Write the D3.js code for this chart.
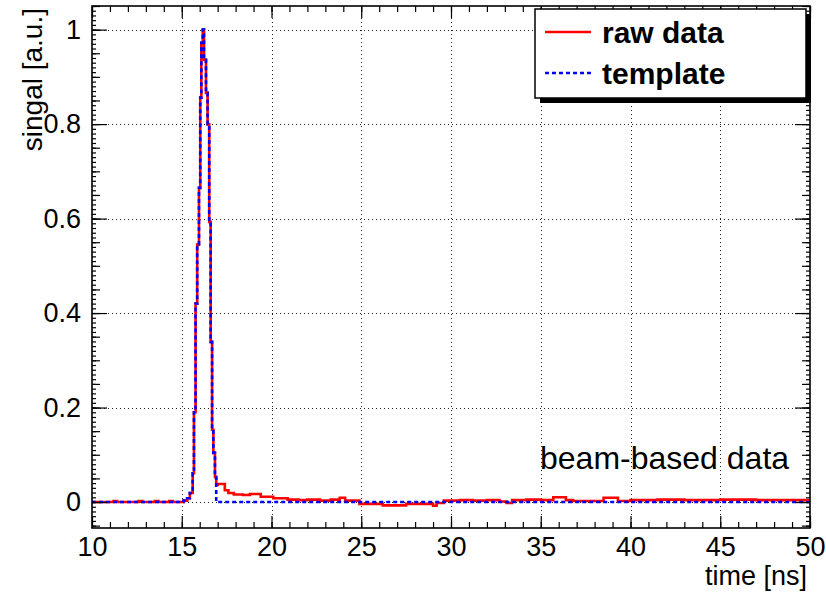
<!DOCTYPE html>
<html><head><meta charset="utf-8">
<script src="https://cdn.jsdelivr.net/npm/d3@7"></script>
<style>body{margin:0;background:#fff}svg{display:block}text{font-family:"Liberation Sans",Arial,sans-serif}</style>
</head><body><svg id="c" width="826" height="595"></svg>
<script>
const rawT = [10, 11.2, 11.4, 12.6, 12.8, 13.5, 13.7, 14.3, 14.5, 15.1, 15.3, 15.45, 15.61, 15.68, 15.77, 15.86, 15.96, 16.03, 16.09, 16.17, 16.24, 16.35, 16.44, 16.53, 16.61, 16.69, 16.76, 16.85, 16.92, 17.0, 17.4, 17.6, 17.9, 18.4, 18.8, 19.4, 20.1, 20.9, 21.5, 22.0, 22.7, 23.3, 23.8, 24.1, 24.9, 26.2, 27.5, 29.0, 29.2, 29.6, 30.5, 31.2, 32.0, 32.7, 33.1, 33.4, 34.2, 35.0, 35.7, 36.4, 36.8, 38.5, 39.3, 40.0, 41.5, 43.0, 45.0, 47.0, 50];
const rawV = [0, 0.002, 0, 0.002, 0, 0.002, 0, 0.002, 0, 0.003, 0.008, 0.019, 0.061, 0.19, 0.42, 0.545, 0.665, 0.856, 0.972, 1.0, 0.936, 0.866, 0.80, 0.593, 0.339, 0.153, 0.104, 0.053, 0.036, 0.038, 0.025, 0.019, 0.016, 0.015, 0.017, 0.011, 0.008, 0.005, 0.004, 0.005, 0.003, 0.005, 0.009, 0.003, -0.004, -0.007, -0.004, -0.008, -0.002, 0.003, 0.004, 0.003, 0.004, 0.001, -0.002, 0.004, 0.005, 0.004, 0.01, 0.004, 0.002, 0.009, 0.002, 0.004, 0.005, 0.004, 0.005, 0.004, 0.004];
const tmplT = [10, 15.1, 15.3, 15.45, 15.61, 15.68, 15.77, 15.86, 15.96, 16.03, 16.09, 16.17, 16.24, 16.35, 16.44, 16.53, 16.61, 16.69, 16.76, 16.85, 16.92, 50];
const tmplV = [0, 0.003, 0.008, 0.019, 0.061, 0.19, 0.42, 0.545, 0.665, 0.856, 0.972, 1.0, 0.936, 0.866, 0.80, 0.593, 0.339, 0.153, 0.104, 0.053, 0, 0];
const xMajor = [10, 15, 20, 25, 30, 35, 40, 45, 50];
const yMajor = [0, 0.2, 0.4, 0.6, 0.8, 1];
const seriesNames = ["raw data", "template"];
const xTitle = "time [ns]", yTitle = "singal [a.u.]", note = "beam-based data";

const L = 92, R = 810, T = 6, B = 528;
const x = d3.scaleLinear().domain([10, 50]).range([L, R]);
const y = d3.scaleLinear().domain([-0.055, 1.05]).range([B, T]);
const svg = d3.select("#c");

// grid
const g = svg.append("g").attr("stroke", "#222").attr("stroke-width", 1).attr("stroke-dasharray", "1,3");
g.selectAll(".gx").data(xMajor.slice(1, -1)).enter().append("line")
  .attr("x1", d => Math.round(x(d)) + 0.5).attr("x2", d => Math.round(x(d)) + 0.5).attr("y1", T).attr("y2", B);
g.selectAll(".gy").data(yMajor).enter().append("line")
  .attr("y1", d => Math.round(y(d)) + 0.5).attr("y2", d => Math.round(y(d)) + 0.5).attr("x1", L).attr("x2", R);

// data
const line = d3.line().x(d => x(d[0])).y(d => y(d[1])).curve(d3.curveStepAfter);
const raw = rawT.map((t, i) => [t, rawV[i]]);
const tmpl = tmplT.map((t, i) => [t, tmplV[i]]);
svg.append("path").datum(raw).attr("d", line).attr("fill", "none").attr("stroke", "#ff0000").attr("stroke-width", 2.6);
svg.append("path").datum(tmpl).attr("d", line).attr("fill", "none").attr("stroke", "#0000ff").attr("stroke-width", 2.6).attr("stroke-dasharray", "4,3");

// axes ticks (inward)
const xMinor = d3.range(10, 50.001, 1);
const yMinor = d3.range(-0.05, 1.0501, 0.01).map(v => +v.toFixed(3));
const yMid = d3.range(-0.05, 1.0501, 0.05).map(v => +v.toFixed(3));
function axisG(axis, tx, ty) {
  const a = svg.append("g").attr("transform", `translate(${tx},${ty})`).call(axis);
  a.select(".domain").remove();
  a.selectAll("line").attr("stroke", "#000").attr("stroke-width", 1.2);
  return a;
}
axisG(d3.axisBottom(x).tickValues(xMinor).tickSize(-6).tickFormat(""), 0, B);
axisG(d3.axisTop(x).tickValues(xMinor).tickSize(-6).tickFormat(""), 0, T);
const xb = axisG(d3.axisBottom(x).tickValues(xMajor).tickSize(-12).tickFormat(d3.format("d")), 0, B);
xb.selectAll("text").attr("font-size", 27).attr("fill", "#000").attr("y", 28).attr("dy", null);
axisG(d3.axisTop(x).tickValues(xMajor).tickSize(-12).tickFormat(""), 0, T);

axisG(d3.axisLeft(y).tickValues(yMinor).tickSize(-4).tickFormat(""), L, 0);
axisG(d3.axisRight(y).tickValues(yMinor).tickSize(-4).tickFormat(""), R, 0);
axisG(d3.axisLeft(y).tickValues(yMid).tickSize(-8).tickFormat(""), L, 0);
axisG(d3.axisRight(y).tickValues(yMid).tickSize(-8).tickFormat(""), R, 0);
const yl = axisG(d3.axisLeft(y).tickValues(yMajor).tickSize(-15).tickPadding(11).tickFormat(d => d === 0 ? "0" : d === 1 ? "1" : d3.format(".1f")(d)), L, 0);
yl.selectAll("text").attr("font-size", 27).attr("fill", "#000");
axisG(d3.axisRight(y).tickValues(yMajor).tickSize(-15).tickFormat(""), R, 0);

// frame
svg.append("rect").attr("x", L).attr("y", T).attr("width", R - L).attr("height", B - T)
  .attr("fill", "none").attr("stroke", "#000").attr("stroke-width", 1.6);

// titles
svg.append("text").attr("x", 807).attr("y", 585).attr("text-anchor", "end").attr("font-size", 27).text(xTitle);
svg.append("text").attr("transform", "translate(42,8) rotate(-90)").attr("text-anchor", "end").attr("font-size", 28).text(yTitle);
svg.append("text").attr("x", 540).attr("y", 469).attr("font-size", 32).text(note);

// legend
const lg = svg.append("g");
lg.append("rect").attr("x", 540).attr("y", 14).attr("width", 271).attr("height", 89).attr("fill", "#000");
lg.append("rect").attr("x", 535).attr("y", 9).attr("width", 271).attr("height", 89).attr("fill", "#fff").attr("stroke", "#000").attr("stroke-width", 1.5);
const ly = [32, 73];
const lStyles = [{c: "#ff0000", d: null}, {c: "#0000ff", d: "4,3"}];
seriesNames.forEach((n, i) => {
  lg.append("line").attr("x1", 545).attr("x2", 591).attr("y1", ly[i]).attr("y2", ly[i])
    .attr("stroke", lStyles[i].c).attr("stroke-width", 2.6).attr("stroke-dasharray", lStyles[i].d);
  lg.append("text").attr("x", 602).attr("y", ly[i]).attr("dy", "0.35em").attr("font-size", 30).attr("font-weight", "bold").text(n);
});
</script></body></html>
